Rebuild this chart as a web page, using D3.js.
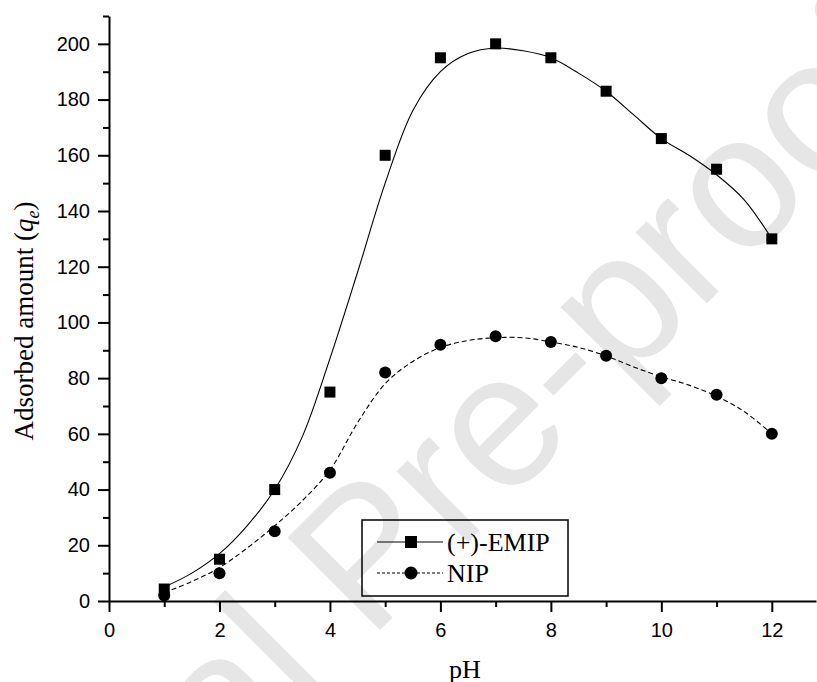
<!DOCTYPE html>
<html>
<head>
<meta charset="utf-8">
<script src="https://cdn.jsdelivr.net/npm/d3@7"></script>
<style>
  body { margin: 0; background: #fff; }
  svg { display: block; }
</style>
</head>
<body>
<div id="chart"></div>
<script>
// Measured data
const pH = [1, 2, 3, 4, 5, 6, 7, 8, 9, 10, 11, 12]
const emip = [4.3, 15, 40, 75, 160, 195, 200, 195, 183, 166, 155, 130]
const nip = [2, 10, 25, 46, 82, 92, 95, 93, 88, 80, 74, 60]

// Fitted curves
const fitPH = [1, 1.5, 2, 2.5, 3, 3.5, 4, 4.5, 5, 5.5, 6, 6.5, 7, 7.5, 8, 8.5, 9, 9.5, 10, 10.5, 11, 11.5, 12]
const emipFit = [5, 10, 17, 27, 40, 59, 87, 118, 150, 176, 190, 196.5, 198.5, 197.5, 195, 189.5, 183, 174.5, 166, 160, 153, 144, 130]
const nipFit = [3, 7, 12, 19, 27, 36, 47, 64, 78, 86, 91, 93.5, 94.5, 94.5, 93, 91, 88, 84, 80.5, 77.5, 73.5, 68, 60]

const xMajor = [0, 2, 4, 6, 8, 10, 12]
const xMinor = [1, 3, 5, 7, 9, 11]
const yMajor = [0, 20, 40, 60, 80, 100, 120, 140, 160, 180, 200]
const yMinor = [10, 30, 50, 70, 90, 110, 130, 150, 170, 190, 210]

const width = 817
const height = 682
const sans = '"Liberation Sans", Arial, sans-serif'
const serif = '"Liberation Serif", "Times New Roman", serif'

const svg = d3.select('#chart').append('svg')
  .attr('width', width)
  .attr('height', height)

// Watermark
svg.append('text')
  .attr('transform', 'translate(410,600) rotate(-45)')
  .attr('text-anchor', 'middle')
  .style('font-family', sans)
  .style('font-size', '190px')
  .style('fill', '#e6e6e6')
  .text('Journal Pre-proof')

const x = d3.scaleLinear().domain([0, 12.8]).range([109, 816])
const y = d3.scaleLinear().domain([0, 210]).range([601, 16])

// Axes
const xAxis = svg.append('g').attr('transform', `translate(0,${y(0)})`)
xAxis.call(d3.axisBottom(x).tickValues(xMinor).tickSize(6).tickFormat('').tickSizeOuter(0))
xAxis.call(g => g.select('.domain').remove())
xAxis.append('g')
  .call(d3.axisBottom(x).tickValues(xMajor).tickSize(11).tickPadding(11).tickSizeOuter(0))

const yAxis = svg.append('g').attr('transform', `translate(${x(0)},0)`)
yAxis.call(d3.axisLeft(y).tickValues(yMinor).tickSize(6).tickFormat('').tickSizeOuter(0))
yAxis.call(g => g.select('.domain').remove())
yAxis.append('g')
  .call(d3.axisLeft(y).tickValues(yMajor).tickSize(11).tickPadding(8).tickSizeOuter(0))

svg.selectAll('.domain, .tick line')
  .attr('stroke', '#000')
  .attr('stroke-width', 2)
svg.selectAll('.tick text')
  .style('font-family', sans)
  .style('font-size', '20px')
  .attr('fill', '#000')

// Axis titles
svg.append('text')
  .attr('x', 465)
  .attr('y', 678)
  .attr('text-anchor', 'middle')
  .style('font-family', serif)
  .style('font-size', '26px')
  .text('pH')

const yTitle = svg.append('text')
  .attr('transform', 'translate(33,321) rotate(-90)')
  .attr('text-anchor', 'middle')
  .style('font-family', serif)
  .style('font-size', '27px')
yTitle.append('tspan').text('Adsorbed amount (')
yTitle.append('tspan').style('font-style', 'italic').text('q')
yTitle.append('tspan').style('font-style', 'italic').style('font-size', '18px').attr('dy', 6).text('e')
yTitle.append('tspan').attr('dy', -6).text(')')

// Curves
const line = d3.line()
  .x(d => x(d[0]))
  .y(d => y(d[1]))
  .curve(d3.curveCatmullRom.alpha(0.5))

svg.append('path')
  .datum(d3.zip(fitPH, emipFit))
  .attr('d', line)
  .attr('fill', 'none')
  .attr('stroke', '#000')
  .attr('stroke-width', 1.1)

svg.append('path')
  .datum(d3.zip(fitPH, nipFit))
  .attr('d', line)
  .attr('fill', 'none')
  .attr('stroke', '#000')
  .attr('stroke-width', 1.1)
  .attr('stroke-dasharray', '5,3')

// Markers
const sq = 11
svg.selectAll('rect.emip')
  .data(d3.zip(pH, emip))
  .enter()
  .append('rect')
  .attr('class', 'emip')
  .attr('x', d => x(d[0]) - sq / 2)
  .attr('y', d => y(d[1]) - sq / 2)
  .attr('width', sq)
  .attr('height', sq)
  .attr('fill', '#000')

svg.selectAll('circle.nip')
  .data(d3.zip(pH, nip))
  .enter()
  .append('circle')
  .attr('class', 'nip')
  .attr('cx', d => x(d[0]))
  .attr('cy', d => y(d[1]))
  .attr('r', 6)
  .attr('fill', '#000')

// Legend
const legend = svg.append('g')
legend.append('rect')
  .attr('x', 362)
  .attr('y', 520)
  .attr('width', 206)
  .attr('height', 76)
  .attr('fill', 'none')
  .attr('stroke', '#000')
  .attr('stroke-width', 1.5)

const rows = [
  { name: '(+)-EMIP', dash: null, shape: 'square', cy: 542 },
  { name: 'NIP', dash: '3,2', shape: 'circle', cy: 573 }
]
rows.forEach(r => {
  legend.append('line')
    .attr('x1', 377).attr('x2', 443)
    .attr('y1', r.cy).attr('y2', r.cy)
    .attr('stroke', '#000')
    .attr('stroke-width', 1.1)
    .attr('stroke-dasharray', r.dash)
  if (r.shape === 'square') {
    legend.append('rect')
      .attr('x', 411 - 6).attr('y', r.cy - 6)
      .attr('width', 12).attr('height', 12)
      .attr('fill', '#000')
  } else {
    legend.append('circle')
      .attr('cx', 411).attr('cy', r.cy)
      .attr('r', 6.5)
      .attr('fill', '#000')
  }
  legend.append('text')
    .attr('x', 447)
    .attr('y', r.cy + 9)
    .style('font-family', serif)
    .style('font-size', '26px')
    .text(r.name)
})
</script>
</body>
</html>
